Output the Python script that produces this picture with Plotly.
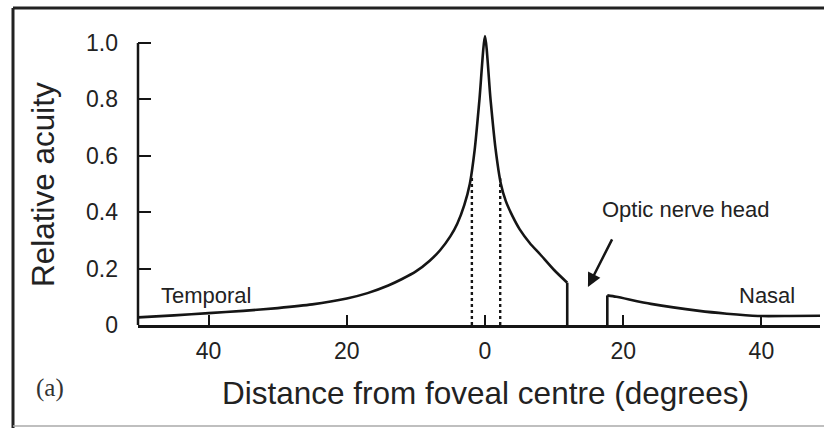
import plotly.graph_objects as go

# ---- data (degrees from foveal centre; temporal side negative) ----
central_x = [-50.2, -45, -40, -35, -30, -25, -20, -17, -14, -12, -10, -8, -6.5, -5, -4, -3,
             -2.2, -1.5, -0.8, 0.0, 0.8, 1.5, 2.3, 3.0, 4.0, 5.0, 6.5, 8.0, 10.0, 11.9]
central_y = [0.027, 0.034, 0.042, 0.050, 0.060, 0.073, 0.094, 0.113, 0.140, 0.163, 0.190,
             0.228, 0.265, 0.315, 0.360, 0.425, 0.500, 0.620, 0.800, 1.025, 0.800, 0.630,
             0.500, 0.440, 0.385, 0.340, 0.290, 0.250, 0.195, 0.150]

drop_x = [11.9, 11.9]
drop_y = [0.150, 0.0]

nasal_x = [17.7, 17.7, 19.0, 24.0, 31.0, 35.0, 39.5, 44.0, 48.5]
nasal_y = [0.0, 0.105, 0.100, 0.075, 0.050, 0.040, 0.032, 0.032, 0.033]

dotted_x = [-1.9, 2.2]
dotted_top = [0.53, 0.52]

x_tickvals = [-40, -20, 0, 20, 40]
x_ticktext = ["40", "20", "0", "20", "40"]
y_tickvals = [0, 0.2, 0.4, 0.6, 0.8, 1.0]
y_ticktext = ["0", "0.2", "0.4", "0.6", "0.8", "1.0"]

# ---- layout geometry (pixels) ----
W, H = 824, 428
L, R, T, B = 138, 820, 30, 325
PX_PER_DEG = 6.91
ZERO_PX = 485
PX_PER_UNIT = 282.0
x_range = [(L - ZERO_PX) / PX_PER_DEG, (R - ZERO_PX) / PX_PER_DEG]
y_range = [0, (B - T) / PX_PER_UNIT]


def px(xp):
    return (xp - L) / (R - L)


def py(yp):
    return (B - yp) / (B - T)


INK = "#151515"
SANS = "Liberation Sans, Arial, sans-serif"

fig = go.Figure()
fig.add_trace(go.Scatter(x=central_x, y=central_y, mode="lines",
                         line=dict(color=INK, width=2.6, shape="spline", smoothing=0.7),
                         cliponaxis=False, hoverinfo="skip", showlegend=False))
fig.add_trace(go.Scatter(x=drop_x, y=drop_y, mode="lines",
                         line=dict(color=INK, width=2.6), cliponaxis=False,
                         hoverinfo="skip", showlegend=False))
fig.add_trace(go.Scatter(x=nasal_x[:2], y=nasal_y[:2], mode="lines",
                         line=dict(color=INK, width=2.6), cliponaxis=False,
                         hoverinfo="skip", showlegend=False))
fig.add_trace(go.Scatter(x=nasal_x[1:], y=nasal_y[1:], mode="lines",
                         line=dict(color=INK, width=2.6, shape="spline", smoothing=0.6),
                         cliponaxis=False, hoverinfo="skip", showlegend=False))
for dx, dt in zip(dotted_x, dotted_top):
    fig.add_trace(go.Scatter(x=[dx, dx], y=[0, dt], mode="lines",
                             line=dict(color=INK, width=2.4, dash="dot"),
                             hoverinfo="skip", showlegend=False))

fig.update_layout(
    width=W, height=H,
    margin=dict(l=L, r=W - R, t=T, b=H - B, pad=0),
    paper_bgcolor="white", plot_bgcolor="white",
    font=dict(family=SANS, color=INK),
    xaxis=dict(range=x_range, showgrid=False, zeroline=False,
               showline=True, linecolor=INK, linewidth=2.5,
               tickvals=x_tickvals, ticktext=x_ticktext,
               ticks="inside", ticklen=10, tickwidth=2, tickcolor=INK,
               tickfont=dict(size=23, family=SANS, color="#222"),
               ticklabelstandoff=4),
    yaxis=dict(range=y_range, showgrid=False, zeroline=False, showline=False,
               tickvals=y_tickvals, ticktext=y_ticktext,
               ticks="inside", ticklen=13, tickwidth=2, tickcolor=INK,
               tickfont=dict(size=23, family=SANS, color="#222"),
               ticklabelstandoff=19),
)

# y axis line only up to 1.0
fig.add_shape(type="line", xref="paper", yref="y", x0=0, x1=0, y0=0, y1=1.0,
              line=dict(color=INK, width=2.5))

# frame
fig.add_shape(type="line", xref="paper", yref="paper", x0=px(13), x1=px(824),
              y0=py(8), y1=py(8), line=dict(color="#222", width=3))
fig.add_shape(type="line", xref="paper", yref="paper", x0=px(13), x1=px(13),
              y0=py(8), y1=py(428), line=dict(color="#222", width=3))
fig.add_shape(type="line", xref="paper", yref="paper", x0=px(13), x1=px(824),
              y0=py(426), y1=py(426), line=dict(color="#aaa", width=1.5))

ann = [
    dict(text="Temporal", x=px(206), y=py(295), size=22),
    dict(text="Nasal", x=px(767), y=py(295), size=22),
    dict(text="Optic nerve head", x=px(686), y=py(210), size=22),
    dict(text="Distance from foveal centre (degrees)", x=px(485), y=py(393), size=31.5),
]
for a in ann:
    fig.add_annotation(text=a["text"], x=a["x"], y=a["y"], xref="paper", yref="paper",
                       showarrow=False, xanchor="center", yanchor="middle",
                       font=dict(size=a["size"], family=SANS, color="#222"))
fig.add_annotation(text="Relative acuity", x=px(43), y=py(185), xref="paper", yref="paper",
                   showarrow=False, textangle=-90, xanchor="center", yanchor="middle",
                   font=dict(size=31.5, family=SANS, color="#222"))
fig.add_annotation(text="(a)", x=px(50), y=py(388), xref="paper", yref="paper",
                   showarrow=False, xanchor="center", yanchor="middle",
                   font=dict(size=25, family="Liberation Serif, Times New Roman, serif", color="#333"))
# arrow to optic nerve head
fig.add_annotation(text="", x=14.9, y=0.135, xref="x", yref="y",
                   ax=18.5, ay=0.309, axref="x", ayref="y",
                   showarrow=True, arrowhead=2, arrowsize=1.1, arrowwidth=2.5,
                   arrowcolor=INK)

fig.write_html("out.html")
